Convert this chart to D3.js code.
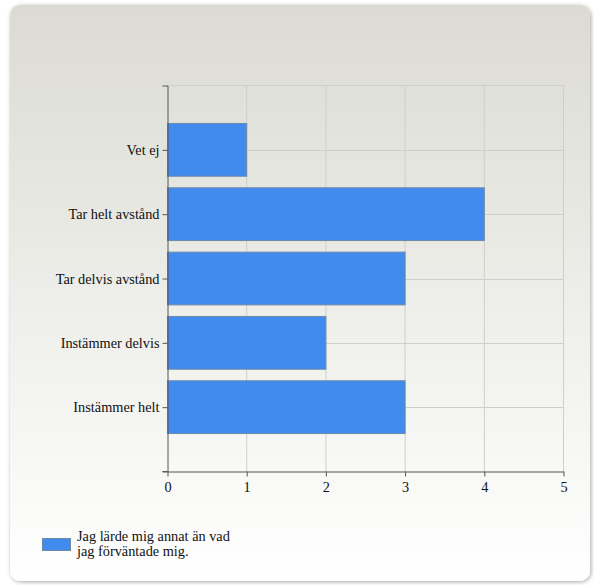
<!DOCTYPE html>
<html><head><meta charset="utf-8">
<script src="https://cdn.jsdelivr.net/npm/d3@7"></script>
<style>
html,body{margin:0;padding:0;background:#fff;}
svg{display:block;}
</style></head>
<body>
<script>
const categories = ["Vet ej","Tar helt avstånd","Tar delvis avstånd","Instämmer delvis","Instämmer helt"];
const values = [1,4,3,2,3];
const xTicks = [0,1,2,3,4,5];
const seriesName = ["Jag lärde mig annat än vad","jag förväntade mig."];

(function(){
const W=594,H=585;
const svg=d3.select("body").append("svg").attr("width",W).attr("height",H);
const defs=svg.append("defs");
const g=defs.append("linearGradient").attr("id","bg").attr("x1",0).attr("y1",0).attr("x2",0).attr("y2",1);
g.append("stop").attr("offset","0%").attr("stop-color","#dbdbd3");
g.append("stop").attr("offset","100%").attr("stop-color","#ffffff");
const f=defs.append("filter").attr("id","sh").attr("x","-5%").attr("y","-5%").attr("width","110%").attr("height","110%");
f.append("feGaussianBlur").attr("in","SourceAlpha").attr("stdDeviation",2);
f.append("feOffset").attr("dx",1).attr("dy",1).attr("result","b");
f.append("feComponentTransfer").append("feFuncA").attr("type","linear").attr("slope",0.35);
const fm=f.append("feMerge");fm.append("feMergeNode");fm.append("feMergeNode").attr("in","SourceGraphic");

svg.append("rect").attr("x",10).attr("y",5).attr("width",580).attr("height",576)
  .attr("rx",10).attr("ry",10).attr("fill","url(#bg)").attr("filter","url(#sh)");

const pL=167.5,pR=563.5,pT=85.5,pB=471.5;
const x=d3.scaleLinear().domain([0,5]).range([pL,pR]);
const y=d3.scalePoint().domain(categories).range([pT,pB]).padding(1);
const step=y.step();
const bh=step*0.82;

// grid
const grid=svg.append("g").attr("stroke","#cfcfca").attr("stroke-width",1);
xTicks.slice(1).forEach(t=>grid.append("line").attr("x1",x(t)).attr("x2",x(t)).attr("y1",pT).attr("y2",pB));
grid.append("line").attr("x1",pL).attr("x2",pR).attr("y1",pT).attr("y2",pT);
categories.forEach(c=>grid.append("line").attr("x1",pL).attr("x2",pR).attr("y1",Math.round(y(c))+0.5).attr("y2",Math.round(y(c))+0.5));

// bars
svg.append("g").selectAll("rect").data(categories).join("rect")
  .attr("x",x(0)).attr("y",(d)=>y(d)-bh/2)
  .attr("width",(d,i)=>x(values[i])-x(0)).attr("height",bh)
  .attr("fill","#418bee").attr("stroke","#6d8aa8").attr("stroke-width",1);

// axes
const font="'Liberation Serif','Times New Roman',serif";
const yAxis=svg.append("g").attr("transform",`translate(${pL},0)`)
  .call(d3.axisLeft(y).tickSize(5).tickPadding(3).tickSizeOuter(5));
const xAxis=svg.append("g").attr("transform",`translate(0,${pB})`)
  .call(d3.axisBottom(x).tickValues(xTicks).tickFormat(d3.format("d")).tickSize(5).tickPadding(5).tickSizeOuter(0));
[yAxis,xAxis].forEach(a=>{
  a.selectAll("path,line").attr("stroke","#555");
  a.selectAll("text").attr("font-family",font).attr("font-size",14.3).attr("fill","#111");
});
svg.append("line").attr("x1",pL-5).attr("x2",pL).attr("y1",pB).attr("y2",pB).attr("stroke","#555");

// legend
svg.append("rect").attr("x",42.5).attr("y",538.5).attr("width",28).attr("height",12)
  .attr("fill","#418bee").attr("stroke","#6d8aa8");
const lt=svg.append("text").attr("font-family",font).attr("font-size",14.3).attr("fill","#111");
seriesName.forEach((s,i)=>lt.append("tspan").attr("x",77).attr("y",541+i*15).text(s));
})();
</script>
</body></html>
